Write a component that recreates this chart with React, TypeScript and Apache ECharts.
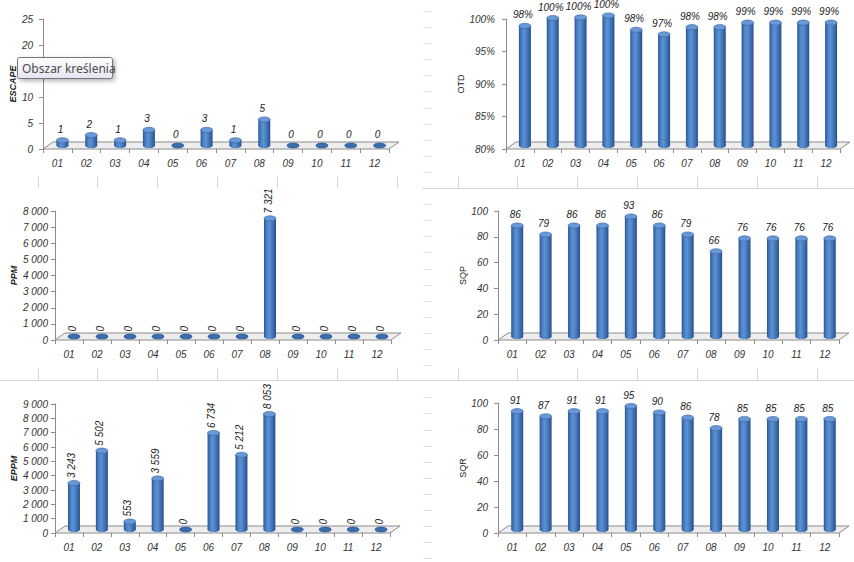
import React, { useEffect, useRef } from "react";
import * as echarts from "echarts";

// ---------- data ----------
const categories = ["01", "02", "03", "04", "05", "06", "07", "08", "09", "10", "11", "12"];
const escapeValues = [1, 2, 1, 3, 0, 3, 1, 5, 0, 0, 0, 0];
const otdValues = [98.4, 99.6, 99.7, 100, 97.8, 97.1, 98.2, 98.2, 98.9, 98.9, 98.9, 98.9];
const ppmValues = [0, 0, 0, 0, 0, 0, 0, 7321, 0, 0, 0, 0];
const sqpValues = [86, 79, 86, 86, 93, 86, 79, 66, 76, 76, 76, 76];
const eppmValues = [3243, 5502, 553, 3559, 0, 6734, 5212, 8053, 0, 0, 0, 0];
const sqrValues = [91, 87, 91, 91, 95, 90, 86, 78, 85, 85, 85, 85];

const escapeTicks = { min: 0, max: 25, interval: 5 };
const otdTicks = { min: 80, max: 100, interval: 5 };
const ppmTicks = { min: 0, max: 8000, interval: 1000 };
const sqpTicks = { min: 0, max: 100, interval: 20 };
const eppmTicks = { min: 0, max: 9000, interval: 1000 };
const sqrTicks = { min: 0, max: 100, interval: 20 };
// tick label hidden under the "Obszar kreślenia" hover box in the reference
const escapeHiddenTickLabels = [15];

const tooltipText = "Obszar kreślenia";

// ---------- helpers ----------
const thousands = (v: number) => String(Math.round(v)).replace(/\B(?=(\d{3})+(?!\d))/g, " ");
const plain = (v: number) => String(Math.round(v));
const pct = (v: number) => Math.round(v) + "%";
const escapeAxisFmt = (v: number) => (escapeHiddenTickLabels.includes(v) ? "" : plain(v));

const FONT = '"Liberation Sans", Arial, sans-serif';
const DEPTH_X = 10;
const DEPTH_Y = 7;
const BAR_DX = 5;
const BAR_DY = -3.5;
const HALF_W = 6;
const CAP_RY = 2.6;

type Panel = {
  name: string;
  values: number[];
  ticks: { min: number; max: number; interval: number };
  axisFmt: (v: number) => string;
  labelFmt: (v: number) => string;
  rotate: boolean;
  grid: { left: number; top: number; width: number; height: number };
  nameGap: number;
  nameBold: boolean;
  labelMargin: number;
};

const panels: Panel[] = [
  { name: "ESCAPE", values: escapeValues, ticks: escapeTicks, axisFmt: escapeAxisFmt, labelFmt: plain, rotate: false,
    grid: { left: 43, top: 19, width: 346, height: 130 }, nameGap: 25, nameBold: true, labelMargin: 10 },
  { name: "OTD", values: otdValues, ticks: otdTicks, axisFmt: pct, labelFmt: pct, rotate: false,
    grid: { left: 506, top: 19, width: 334, height: 130 }, nameGap: 38, nameBold: false, labelMargin: 11 },
  { name: "PPM", values: ppmValues, ticks: ppmTicks, axisFmt: thousands, labelFmt: thousands, rotate: true,
    grid: { left: 55, top: 211, width: 336, height: 129 }, nameGap: 37, nameBold: true, labelMargin: 7 },
  { name: "SQP", values: sqpValues, ticks: sqpTicks, axisFmt: plain, labelFmt: plain, rotate: false,
    grid: { left: 498, top: 211, width: 341, height: 129 }, nameGap: 30, nameBold: false, labelMargin: 10 },
  { name: "EPPM", values: eppmValues, ticks: eppmTicks, axisFmt: thousands, labelFmt: thousands, rotate: true,
    grid: { left: 55, top: 404, width: 335, height: 129 }, nameGap: 37, nameBold: true, labelMargin: 7 },
  { name: "SQR", values: sqrValues, ticks: sqrTicks, axisFmt: plain, labelFmt: plain, rotate: false,
    grid: { left: 498, top: 403, width: 341, height: 130 }, nameGap: 30, nameBold: false, labelMargin: 10 },
];

function bodyGradient() {
  return new echarts.graphic.LinearGradient(0, 0, 1, 0, [
    { offset: 0, color: "#2b5690" },
    { offset: 0.25, color: "#4f84c8" },
    { offset: 0.45, color: "#5b91d6" },
    { offset: 0.75, color: "#3f71b2" },
    { offset: 1, color: "#27508a" },
  ]);
}

function makeBarRender(p: Panel) {
  return (params: any, api: any) => {
    const i = api.value(0);
    const v = api.value(1);
    const top = api.coord([i, v]);
    const base = api.coord([i, p.ticks.min]);
    const cx = top[0] + BAR_DX;
    const ty = top[1] + BAR_DY;
    const by = base[1] + BAR_DY;
    const h = Math.max(0, by - ty);
    const children: any[] = [
      { type: "ellipse", shape: { cx, cy: by, rx: HALF_W, ry: CAP_RY }, style: { fill: bodyGradient() } },
      { type: "rect", shape: { x: cx - HALF_W, y: ty, width: HALF_W * 2, height: h }, style: { fill: bodyGradient() } },
      {
        type: "ellipse",
        shape: { cx, cy: ty, rx: HALF_W, ry: CAP_RY },
        style: { fill: h < 1 ? "#3d6cab" : "#6a98d6", stroke: "#34629f", lineWidth: 0.6 },
      },
    ];
    const text = p.labelFmt(v);
    if (p.rotate) {
      children.push({
        type: "text",
        x: cx - 2,
        y: ty - 5,
        rotation: Math.PI / 2,
        style: { text, fill: "#222", font: `italic 10px ${FONT}`, align: "left", verticalAlign: "middle" },
      });
    } else {
      children.push({
        type: "text",
        x: cx - 2,
        y: ty - 11,
        style: { text, fill: "#222", font: `italic 10px ${FONT}`, align: "center", verticalAlign: "middle" },
      });
    }
    return { type: "group", children };
  };
}

function floorRender(params: any) {
  const cs = params.coordSys;
  const x0 = cs.x;
  const y0 = cs.y + cs.height;
  const x1 = cs.x + cs.width;
  return {
    type: "polygon",
    shape: {
      points: [
        [x0, y0],
        [x1, y0],
        [x1 + DEPTH_X, y0 - DEPTH_Y],
        [x0 + DEPTH_X, y0 - DEPTH_Y],
      ],
    },
    style: { fill: "#eeeeee", stroke: "#8c8c8c", lineWidth: 1 },
  };
}

// spreadsheet cell borders (decorative)
const borderColor = "#d8d8d8";
const colXLeft = [38, 97, 157, 217, 277, 337, 397];
const colXRight = [458, 517, 577, 637, 697, 757, 817];

function buildBorders(): any[] {
  const out: any[] = [];
  const line = (x1: number, y1: number, x2: number, y2: number, c = borderColor) => ({
    type: "line",
    shape: { x1, y1, x2, y2 },
    style: { stroke: c, lineWidth: 1 },
    silent: true,
    z: 0,
  });
  out.push(line(422, 188.5, 854, 188.5));
  out.push(line(0, 380.5, 854, 380.5));
  [...colXLeft, ...colXRight].forEach((x) => {
    out.push(line(x + 0.5, 176, x + 0.5, 188));
    out.push(line(x + 0.5, 368, x + 0.5, 380));
  });
  for (let k = 0; k < 35; k++) {
    const y = Math.round(10.9 + 16.1 * k) + 0.5;
    if (Math.abs(y - 188.5) < 3 || Math.abs(y - 380.5) < 3) continue;
    if (y > 560) break;
    out.push(line(423, y, 432, y, "#e3e3e3"));
  }
  return out;
}

export default function App() {
  const ref = useRef<HTMLDivElement>(null);
  useEffect(() => {
    if (!ref.current) return;
    const chart = echarts.init(ref.current, undefined, { renderer: "svg" });

    const grid = panels.map((p) => ({ ...p.grid, containLabel: false }));
    const xAxis = panels.map((p, gi) => ({
      type: "category",
      gridIndex: gi,
      data: categories,
      boundaryGap: true,
      axisLine: { show: false },
      axisTick: { show: true, length: 4, lineStyle: { color: "#8c8c8c" } },
      axisLabel: { margin: 9, fontSize: 10, fontStyle: "italic", fontFamily: FONT, color: "#333" },
      splitLine: { show: false },
    }));
    const yAxis = panels.map((p, gi) => ({
      type: "value",
      gridIndex: gi,
      min: p.ticks.min,
      max: p.ticks.max,
      interval: p.ticks.interval,
      axisLine: { show: true, lineStyle: { color: "#8c8c8c" } },
      axisTick: { show: true, length: 4, lineStyle: { color: "#8c8c8c" } },
      splitLine: { show: false },
      axisLabel: {
        formatter: (v: number) => p.axisFmt(v),
        margin: p.labelMargin,
        fontSize: 10,
        fontStyle: "italic",
        fontFamily: FONT,
        color: "#333",
      },
      name: p.name,
      nameLocation: "middle",
      nameRotate: 90,
      nameGap: p.nameGap,
      nameTextStyle: {
        fontSize: 9,
        fontFamily: FONT,
        fontWeight: p.nameBold ? "bold" : "normal",
        fontStyle: p.nameBold ? "italic" : "normal",
        color: "#222",
      },
    }));

    const series: any[] = [];
    panels.forEach((p, gi) => {
      series.push({
        type: "custom",
        xAxisIndex: gi,
        yAxisIndex: gi,
        data: [[0, p.ticks.min]],
        renderItem: floorRender,
        clip: false,
        silent: true,
        z: 1,
      });
      series.push({
        type: "custom",
        name: p.name,
        xAxisIndex: gi,
        yAxisIndex: gi,
        data: p.values.map((v, i) => [i, v]),
        renderItem: makeBarRender(p),
        clip: false,
        z: 2,
      });
    });

    const graphic: any[] = [
      ...buildBorders(),
      {
        type: "rect",
        z: 1000,
        shape: { x: 17.5, y: 57.5, width: 95, height: 21, r: 2 },
        style: {
          fill: new echarts.graphic.LinearGradient(0, 0, 0, 1, [
            { offset: 0, color: "#ffffff" },
            { offset: 1, color: "#e4e5f0" },
          ]),
          stroke: "#767676",
          lineWidth: 1,
          shadowBlur: 4,
          shadowOffsetX: 2,
          shadowOffsetY: 2,
          shadowColor: "rgba(0,0,0,0.3)",
        },
      },
      {
        type: "text",
        z: 1001,
        x: 22,
        y: 68,
        style: {
          text: tooltipText,
          fill: "#4c4c4c",
          font: '12px "Noto Sans", "DejaVu Sans", sans-serif',
          align: "left",
          verticalAlign: "middle",
        },
      },
    ];

    chart.setOption({
      animation: false,
      backgroundColor: "#ffffff",
      grid,
      xAxis,
      yAxis,
      series,
      graphic,
    });
    return () => chart.dispose();
  }, []);

  return (
    <div
      ref={ref}
      style={{ position: "absolute", left: 0, top: 0, width: 854, height: 562, background: "#fff" }}
    />
  );
}
